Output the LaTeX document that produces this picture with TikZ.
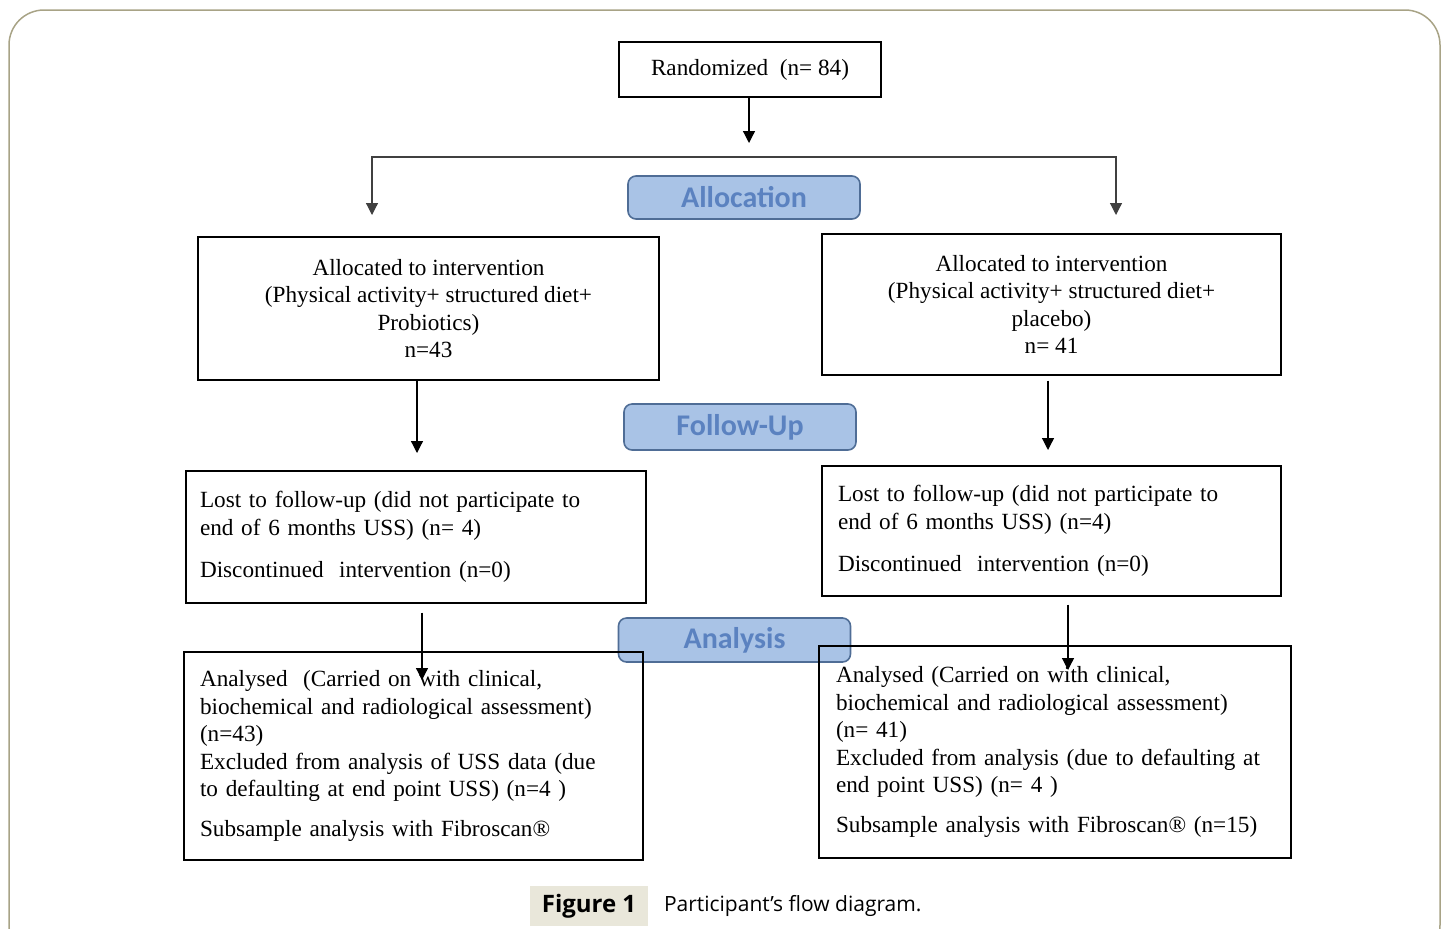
\documentclass[tikz,border=0pt]{standalone}
\usepackage{fontspec}
\setmainfont{Liberation Serif}
\newfontfamily\stagefont{Carlito}
\newfontfamily\capfont{Open Sans}
\usepackage{xcolor}
\usetikzlibrary{shapes,arrows.meta,positioning}
\definecolor{framecol}{HTML}{A8A386}
\definecolor{stagefill}{HTML}{A9C3E6}
\definecolor{stagedraw}{HTML}{4F6D96}
\definecolor{stagetext}{HTML}{5B82C0}
\definecolor{capfill}{HTML}{E9E7DA}

\begin{document}
\begin{tikzpicture}[
    x=0.5pt, y=-0.5pt,
    box/.style={rectangle, draw, line width=0.7pt, inner sep=0pt, align=center, font=\fontsize{11.6}{13.75}\selectfont},
    outbox/.style={rectangle, draw, line width=0.7pt, inner ysep=0pt, align=left, font=\fontsize{11.6}{13.75}\selectfont},
    stage/.style={rectangle, draw=stagedraw, fill=stagefill, line width=0.8pt, rounded corners=4pt, minimum width=116pt, text=stagetext, font=\stagefont\bfseries\fontsize{15}{18}\selectfont},
    arrow/.style={-{Triangle[length=6pt,width=6pt]}, line width=0.6pt},
    figlabel/.style={fill=capfill, minimum width=59pt, minimum height=20pt, font=\capfont\bfseries\fontsize{12}{14}\selectfont}
]
    \useasboundingbox (0,0) rectangle (1450,928);
    % Frame
    \draw[framecol, line width=0.75pt, rounded corners=17.5pt] (9,10) rectangle (1440,960);

    % Randomisation
    \node[box, minimum width=131pt, minimum height=27.5pt] (rand) at (750,69.5) {Randomized \ (n= 84)};
    \node[stage, minimum height=21.5pt] (alloc) at (744,197.5) {Allocation};

    % Allocation layer
    \node[box, minimum width=230.5pt, minimum height=71.5pt] (allocL) at (428.5,308.5)
        {Allocated to intervention\\(Physical activity+ structured diet+\\Probiotics)\\n=43};
    \node[box, minimum width=229.5pt, minimum height=70.5pt] (allocR) at (1051.5,304.5)
        {Allocated to intervention\\(Physical activity+ structured diet+\\placebo)\\n= 41};

    % Follow-up layer
    \node[stage, minimum height=23pt] (follow) at (740,427) {Follow-Up};
    \node[outbox, inner xsep=7pt, text width=216pt, minimum height=66pt] (followL) at (416,537)
        {Lost to follow-up (did not participate to\\end of 6 months USS) (n= 4)\\[7.5pt]Discontinued \ intervention (n=0)};
    \node[outbox, inner xsep=8pt, text width=213.5pt, minimum height=65pt] (followR) at (1051.5,531)
        {Lost to follow-up (did not participate to\\end of 6 months USS) (n=4)\\[7.5pt]Discontinued \ intervention (n=0)};

    % Analysis layer
    \node[stage, minimum height=22pt] (analysis) at (734.5,640) {Analysis};
    \node[outbox, inner xsep=8pt, text width=213.5pt, minimum height=104pt] (anaL) at (413.5,756)
        {Analysed \ (Carried on with clinical,\\biochemical and radiological assessment)\\(n=43)\\Excluded from analysis of USS data (due\\to defaulting at end point USS) (n=4 )\\[6pt]Subsample analysis with Fibroscan®};
    \node[outbox, inner xsep=8.5pt, text width=219pt, minimum height=106pt] (anaR) at (1055,752)
        {Analysed (Carried on with clinical,\\biochemical and radiological assessment)\\(n= 41)\\Excluded from analysis (due to defaulting at\\end point USS) (n= 4 )\\[6pt]Subsample analysis with Fibroscan® (n=15)};

    % Caption
    \node[figlabel] (figlab) at (589,906) {Figure 1};
    \node[anchor=west, font=\capfont\fontsize{10.5}{13}\selectfont] (figtext) at (657,906) {Participant’s flow diagram.};

    % Arrows
    \coordinate (randend) at (749,143);
    \coordinate (splitL) at (372,157);
    \coordinate (splitR) at (1116,157);
    \coordinate (allocLend) at (372,215);
    \coordinate (allocRend) at (1116,215);
    \coordinate (followLend) at (417,453);
    \coordinate (followRend) at (1048,450);
    \coordinate (anaLend) at (422,680);
    \coordinate (anaRend) at (1068,670);
    \draw[arrow] (rand.south -| randend) -- (randend);
    \draw[arrow, black!75] (splitR) -| (allocLend);
    \draw[arrow, black!75] (splitL) -| (allocRend);
    \draw[arrow] (allocL.south -| followLend) -- (followLend);
    \draw[arrow, shorten <=2.5pt] (allocR.south -| followRend) -- (followRend);
    \draw[arrow, shorten <=4.5pt] (followL.south -| anaLend) -- (anaLend);
    \draw[arrow, shorten <=4pt] (followR.south -| anaRend) -- (anaRend);
\end{tikzpicture}
\end{document}
